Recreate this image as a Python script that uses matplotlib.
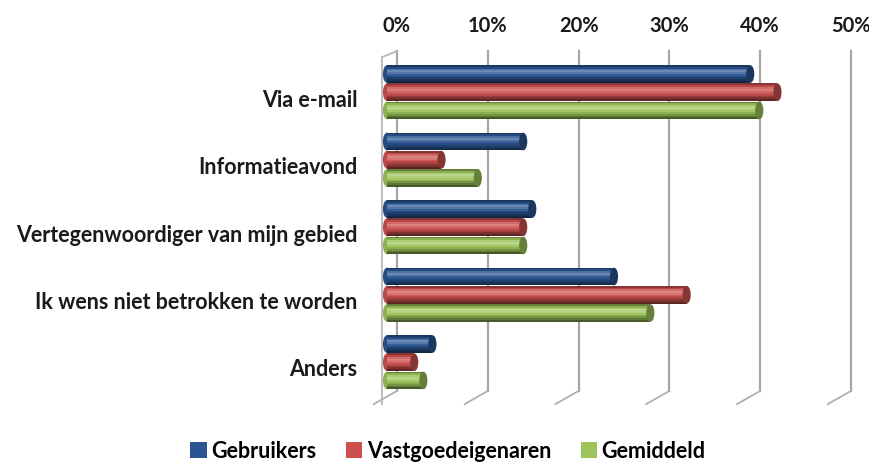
import matplotlib
matplotlib.use("Agg", force=True)
import matplotlib.pyplot as plt
import matplotlib.transforms as mtransforms
from matplotlib.patches import Ellipse, Patch
from matplotlib.colors import to_rgb
import numpy as np

categories = ["Via e-mail", "Informatieavond", "Vertegenwoordiger van mijn gebied",
              "Ik wens niet betrokken te worden", "Anders"]
series_names = ["Gebruikers", "Vastgoedeigenaren", "Gemiddeld"]
gebruikers = [40, 15, 16, 25, 5]
vastgoedeigenaren = [43, 6, 15, 33, 3]
gemiddeld = [41, 10, 15, 29, 4]
tick_values = [0, 10, 20, 30, 40, 50]

colors = ["#2A5592", "#CC514E", "#9DC45A"]
FONT = "Lato"


def shade(color, f):
    c = np.array(to_rgb(color))
    if f >= 0:
        return tuple(c + (1 - c) * f)
    return tuple(c * (1 + f))


fig = plt.figure(figsize=(8.7, 4.64), dpi=100)
ax = fig.add_axes([387 / 870, (464 - 403.75) / 464, 454 / 870, 337.5 / 464])
ax.set_xlim(0, 50)
ax.set_ylim(-0.5, 4.5)
ax.axis("off")

# back walls / grid lines (3D look)
blend = mtransforms.blended_transform_factory(ax.transData, ax.transAxes)
back_dx, front_dx = 1.1, -0.55
y_top, y_bot, y_front = 1.042, 0.035, -0.004
for v in tick_values:
    ax.plot([v + back_dx, v + back_dx], [y_top, y_bot], transform=blend,
            color="#A6A6A6", lw=1.6, clip_on=False, zorder=1)
    ax.plot([v + back_dx, v + front_dx - 0.9], [y_bot, y_front], transform=blend,
            color="#B0B0B0", lw=1.3, clip_on=False, zorder=1)
    ax.text(v + back_dx, 1.119, f"{v}%", transform=blend, ha="center", va="center",
            fontsize=14.5, fontweight="bold", family=FONT, color="#1A1A1A")
ax.plot([front_dx, front_dx], [1.024, y_front], transform=blend, color="#B8B8B8",
        lw=1.3, clip_on=False, zorder=1)
ax.plot([front_dx, back_dx], [1.024, y_top], transform=blend, color="#B8B8B8",
        lw=1.3, clip_on=False, zorder=1)

# cylinder bars
bar_h = 0.262
step = 0.27
group_shift = 0.1
profile = [-0.35, -0.1, 0.15, 0.3, 0.2, 0.05, -0.1, -0.25, -0.4, -0.55]
n = len(profile)
ypos = np.arange(len(categories))[::-1]
for s, vals in enumerate([gebruikers, vastgoedeigenaren, gemiddeld]):
    yc = ypos + group_shift + (1 - s) * step
    for k, f in enumerate(profile):
        yk = yc + bar_h / 2 - (k + 0.5) * bar_h / n
        ax.barh(yk, vals, height=bar_h / n + 0.002, left=0, color=shade(colors[s], f),
                linewidth=0, zorder=3 + s * 0.01)
    for y, v in zip(yc, vals):
        ax.add_patch(Ellipse((v, y), width=0.9, height=bar_h, facecolor=shade(colors[s], -0.35),
                             edgecolor="none", zorder=3.5 + s * 0.01, clip_on=False))
        ax.add_patch(Ellipse((0, y), width=0.9, height=bar_h, facecolor=shade(colors[s], -0.1),
                             edgecolor="none", zorder=2.9, clip_on=False))

for y, label in zip(ypos, categories):
    ax.text(-3.25, y, label, ha="right", va="center", fontsize=15.5,
            fontweight="bold", family=FONT, color="#1A1A1A")

handles = [Patch(facecolor=c, edgecolor="none") for c in colors]
fig.legend(handles, series_names, loc="center", bbox_to_anchor=(0.515, 0.026), ncol=3,
           frameon=False, prop={"family": FONT, "weight": "bold", "size": 15.5},
           handlelength=0.75, handleheight=0.75, handletextpad=0.2, columnspacing=1.4)

fig.savefig("out.png", dpi=100)
